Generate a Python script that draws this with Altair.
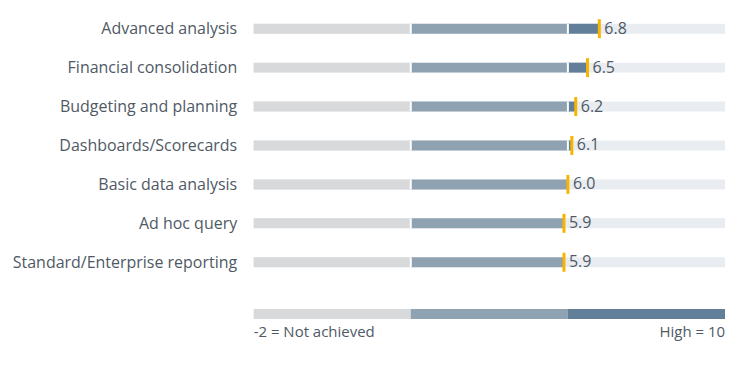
import altair as alt
import pandas as pd

categories = ["Advanced analysis", "Financial consolidation", "Budgeting and planning",
              "Dashboards/Scorecards", "Basic data analysis", "Ad hoc query",
              "Standard/Enterprise reporting"]
values = [6.8, 6.5, 6.2, 6.1, 6.0, 5.9, 5.9]
bounds = [-2, 2, 6, 10]
seg_colors = ["#d8d9da", "#8fa2b2", "#627f99"]
legend_labels = ["-2 = Not achieved", "High = 10"]
legend_row = 7.33

FONT = "Open Sans"
TEXT_COLOR = "#4f5965"

seg_rows, gap_rows = [], []
for i, v in enumerate(values):
    for k in range(3):
        if v > bounds[k]:
            seg_rows.append({"row": i, "start": bounds[k], "end": min(v, bounds[k + 1]), "seg": k})
    for b in bounds[1:3]:
        if v > b:
            gap_rows.append({"row": i, "x": b})
segs = pd.DataFrame(seg_rows)
gaps = pd.DataFrame(gap_rows)
rows = pd.DataFrame({"row": list(range(len(values))), "value": values,
                     "lo": bounds[0], "hi": bounds[-1],
                     "label": [f"{v:.1f}" for v in values]})
legend = pd.DataFrame({"row": legend_row, "start": bounds[:-1], "end": bounds[1:], "seg": [0, 1, 2]})
leg_left = pd.DataFrame({"row": [legend_row], "x": [bounds[0]], "text": [legend_labels[0]]})
leg_right = pd.DataFrame({"row": [legend_row], "x": [bounds[-1]], "text": [legend_labels[1]]})

xs = alt.Scale(domain=[bounds[0], bounds[-1]], nice=False, zero=False, padding=0)
ys = alt.Scale(domain=[-0.5, 8.3], reverse=True, nice=False, zero=False, padding=0)
cs = alt.Scale(domain=[0, 1, 2], range=seg_colors)

label_expr = "[" + ",".join("'" + c + "'" for c in categories) + "][datum.value]"
yaxis = alt.Axis(values=list(range(len(categories))), labelExpr=label_expr, domain=False, ticks=False,
                 grid=False, labelPadding=17, labelFontSize=16, labelFont=FONT, labelColor=TEXT_COLOR,
                 labelLimit=0, title=None)

track = alt.Chart(rows).mark_bar(height=10, color="#e9edf1").encode(
    x=alt.X("lo:Q", scale=xs, axis=None), x2="hi:Q",
    y=alt.Y("row:Q", scale=ys, axis=yaxis))
bars = alt.Chart(segs).mark_bar(height=10).encode(
    x=alt.X("start:Q", scale=xs), x2="end:Q", y=alt.Y("row:Q", scale=ys),
    color=alt.Color("seg:O", scale=cs, legend=None))
gapm = alt.Chart(gaps).mark_tick(orient="vertical", color="white", thickness=2, size=10, opacity=1).encode(
    x=alt.X("x:Q", scale=xs), y=alt.Y("row:Q", scale=ys))
ticks = alt.Chart(rows).mark_tick(orient="vertical", color="#f7b500", thickness=3, size=19, opacity=1).encode(
    x=alt.X("value:Q", scale=xs), y=alt.Y("row:Q", scale=ys))
labels = alt.Chart(rows).mark_text(align="left", dx=5, fontSize=16, font=FONT, color=TEXT_COLOR).encode(
    x=alt.X("value:Q", scale=xs), y=alt.Y("row:Q", scale=ys), text="label:N")
leg = alt.Chart(legend).mark_bar(height=10).encode(
    x=alt.X("start:Q", scale=xs), x2="end:Q", y=alt.Y("row:Q", scale=ys),
    color=alt.Color("seg:O", scale=cs, legend=None))
leg_l = alt.Chart(leg_left).mark_text(
    align="left", dy=18, fontSize=15, font=FONT, color=TEXT_COLOR).encode(
    x=alt.X("x:Q", scale=xs), y=alt.Y("row:Q", scale=ys), text="text:N")
leg_r = alt.Chart(leg_right).mark_text(
    align="right", dy=18, fontSize=15, font=FONT, color=TEXT_COLOR).encode(
    x=alt.X("x:Q", scale=xs), y=alt.Y("row:Q", scale=ys), text="text:N")

chart = alt.layer(track, bars, gapm, ticks, labels, leg, leg_l, leg_r).properties(
    width=472, height=343,
    autosize=alt.AutoSizeParams(type="none"),
    padding={"left": 246, "top": 1, "right": 10, "bottom": 5},
).configure_view(stroke=None)

chart.save("out.html", embed_options={"renderer": "svg", "actions": False})
